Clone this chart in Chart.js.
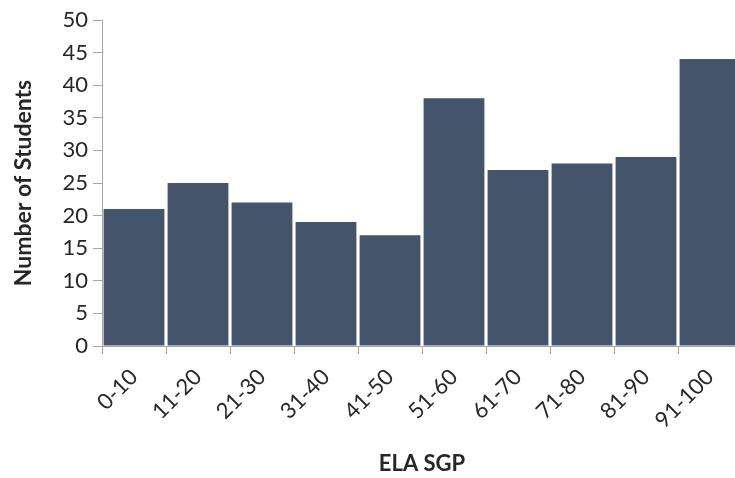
<!DOCTYPE html>
<html>
<head>
<meta charset="utf-8">
<script src="https://cdn.jsdelivr.net/npm/chart.js@4/dist/chart.umd.min.js"></script>
<style>
  html, body { margin: 0; padding: 0; background: #fff; overflow: hidden; }
  #wrap { width: 745px; height: 478px; }
</style>
</head>
<body>
<div id="wrap"><canvas id="sgp"></canvas></div>
<script>
const categories = ['0-10', '11-20', '21-30', '31-40', '41-50', '51-60', '61-70', '71-80', '81-90', '91-100'];
const students = [21, 25, 22, 19, 17, 38, 27, 28, 29, 44];
const yTicks = [0, 5, 10, 15, 20, 25, 30, 35, 40, 45, 50];

const axisGrey = '#a6a6a6';
const textColor = '#262626';

new Chart(document.getElementById('sgp'), {
  type: 'bar',
  data: {
    labels: categories,
    datasets: [{
      label: 'Number of Students',
      data: students,
      backgroundColor: '#44546a',
      borderWidth: 0,
      barPercentage: 0.95,
      categoryPercentage: 1
    }]
  },
  options: {
    responsive: true,
    maintainAspectRatio: false,
    animation: false,
    layout: { padding: { top: 20, right: 3, left: 0, bottom: 0 } },
    plugins: { legend: { display: false }, tooltip: { enabled: false } },
    scales: {
      x: {
        grid: { display: true, drawOnChartArea: false, offset: true, color: axisGrey, tickLength: 8 },
        border: { color: axisGrey, width: 1 },
        ticks: {
          color: textColor, minRotation: 45, maxRotation: 45, padding: 10,
          font: { family: 'Lato', size: 22 }
        },
        title: {
          display: true, text: 'ELA SGP', color: textColor,
          font: { family: 'Lato', size: 22, weight: 'bold' },
          padding: { top: 0, bottom: 1 }
        },
        afterFit: s => { s.height = 132; }
      },
      y: {
        min: 0, max: 50,
        afterBuildTicks: s => { s.ticks = yTicks.map(v => ({ value: v })); },
        grid: { display: true, drawOnChartArea: false, color: axisGrey, tickLength: 9 },
        border: { color: axisGrey, width: 1 },
        ticks: {
          color: textColor, padding: 5,
          font: { family: 'Lato', size: 22 }
        },
        title: {
          display: true, text: 'Number of Students', color: textColor,
          font: { family: 'Lato', size: 23, weight: 'bold' },
          padding: { top: 10, bottom: 0 }
        },
        afterFit: s => { s.width = 102; }
      }
    }
  },
  plugins: [{
    id: 'bg',
    beforeDraw: c => {
      const ctx = c.ctx;
      ctx.save();
      ctx.fillStyle = '#fff';
      ctx.fillRect(0, 0, c.width, c.height);
      ctx.restore();
    }
  }]
});
</script>
</body>
</html>
